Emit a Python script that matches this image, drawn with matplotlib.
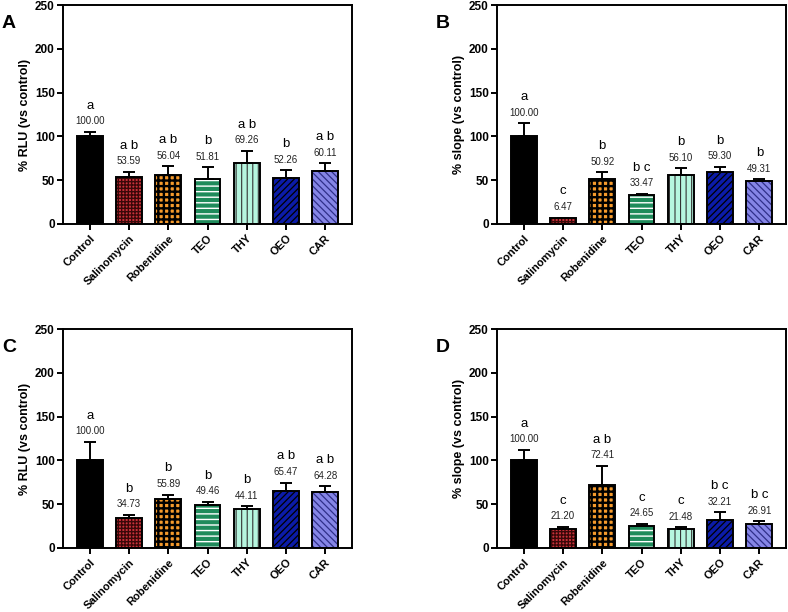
import numpy as np
import matplotlib
matplotlib.use("Agg")
import matplotlib.pyplot as plt

plt.rcParams['font.family'] = ['Liberation Sans', 'DejaVu Sans']

# Data
groups = ["Control", "Salinomycin", "Robenidine", "TEO", "THY", "OEO", "CAR"]

rlu_a = [100.00, 53.59, 56.04, 51.81, 69.26, 52.26, 60.11]
rlu_a_sd = [5.1, 6.0, 9.6, 13.1, 14.2, 9.2, 9.3]
rlu_a_let = ["a", "a b", "a b", "b", "a b", "b", "a b"]

slope_b = [100.00, 6.47, 50.92, 33.47, 56.10, 59.30, 49.31]
slope_b_sd = [15.0, 0.8, 7.9, 1.0, 7.6, 5.9, 1.9]
slope_b_let = ["a", "c", "b", "b c", "b", "b", "b"]

rlu_c = [100.00, 34.73, 55.89, 49.46, 44.11, 65.47, 64.28]
rlu_c_sd = [21.0, 2.9, 5.1, 3.2, 3.3, 9.2, 6.3]
rlu_c_let = ["a", "b", "b", "b", "b", "a b", "a b"]

slope_d = [100.00, 21.20, 72.41, 24.65, 21.48, 32.21, 26.91]
slope_d_sd = [12.0, 3.1, 21.6, 3.0, 2.0, 8.4, 3.8]
slope_d_let = ["a", "c", "a b", "c", "c", "b c", "b c"]

# style per group: face colour, hatch, hatch colour, hatch linewidth
faces = ["black", "#c8313a", "#f59a2c", "#1f8b5b", "#b6f6df", "#0b1ba8", "#8585e6"]
hatches = [None, "+++++", "+++", "---", "|||", "/////", "\\\\\\\\\\"]
hcols = ["black", "#3a0808", "black", "white", "#333333", "black", "#30308a"]
hlw = [1.0, 1.0, 1.7, 1.0, 0.8, 0.9, 0.9]


def panel(ax, vals, sd, lets, ylabel):
    x = np.arange(len(groups))
    w = 0.66
    for i in range(len(groups)):
        ax.bar(x[i], vals[i], w, color=faces[i], linewidth=0, zorder=2)
        if hatches[i]:
            plt.rcParams['hatch.linewidth'] = hlw[i]
            b = ax.bar(x[i], vals[i], w, fill=False, hatch=hatches[i],
                       edgecolor=hcols[i], linewidth=0, zorder=3)
            for p in b:
                if hasattr(p, "set_hatch_linewidth"):
                    p.set_hatch_linewidth(hlw[i])
        ax.bar(x[i], vals[i], w, fill=False, edgecolor="black",
               linewidth=1.4, zorder=4)
    ax.errorbar(x, vals, yerr=[np.zeros(len(sd)), sd], fmt="none",
                ecolor="black", elinewidth=1.4, capsize=4.5, capthick=1.4,
                zorder=5)
    for i in range(len(groups)):
        top = vals[i] + sd[i]
        ax.annotate(f"{vals[i]:.2f}", (x[i], top), xytext=(0, 4),
                    textcoords="offset points", ha="center", va="bottom",
                    fontsize=7, color="#222222")
        ax.annotate(lets[i], (x[i], top), xytext=(0, 14.5),
                    textcoords="offset points", ha="center", va="bottom",
                    fontsize=9.5)
    ax.set_xlim(-0.68, 6.68)
    ax.set_ylim(0, 250)
    ax.set_yticks([0, 50, 100, 150, 200, 250])
    ax.set_xticks(x)
    ax.set_xticklabels(groups, rotation=45, ha="right",
                       rotation_mode="anchor", fontweight="bold", fontsize=8)
    for lab in ax.get_yticklabels():
        lab.set_fontweight("bold")
        lab.set_fontsize(8.5)
    ax.tick_params(direction="out", length=4, width=1.4, pad=2)
    ax.tick_params(axis="x", pad=2.5)
    for s in ax.spines.values():
        s.set_linewidth(1.4)
    ax.set_ylabel(ylabel, fontweight="bold", fontsize=9, labelpad=3)


fig = plt.figure(figsize=(7.88, 6.12), dpi=100)
W, H = 788, 612
boxes = {
    "A": (63, 5), "B": (497, 5), "C": (63, 329), "D": (497, 329),
}
data = {
    "A": (rlu_a, rlu_a_sd, rlu_a_let, "% RLU (vs control)"),
    "B": (slope_b, slope_b_sd, slope_b_let, "% slope (vs control)"),
    "C": (rlu_c, rlu_c_sd, rlu_c_let, "% RLU (vs control)"),
    "D": (slope_d, slope_d_sd, slope_d_let, "% slope (vs control)"),
}
for key, (l, t) in boxes.items():
    ax = fig.add_axes([l / W, 1 - (t + 219) / H, 289 / W, 219 / H])
    vals, sd, lets, yl = data[key]
    panel(ax, vals, sd, lets, yl)
    fig.text((l - 54) / W, 1 - (t + 18) / H, key, fontsize=14,
             fontweight="bold", ha="center", va="center")

fig.savefig("out.png", dpi=100)
